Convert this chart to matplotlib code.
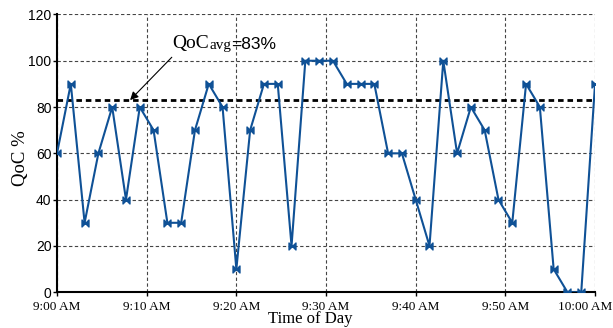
import numpy as np
import pandas as pd
import matplotlib
matplotlib.use("Agg")
import matplotlib.pyplot as plt
from matplotlib.path import Path
from matplotlib.transforms import ScaledTranslation

# QoC samples taken between 9:00 and 10:00
qoc = [60, 90, 30, 60, 80, 40, 80, 70, 30, 30,
       70, 90, 80, 10, 70, 90, 90, 20, 100, 100,
       100, 90, 90, 90, 60, 60, 40, 20, 100, 60,
       80, 70, 40, 30, 90, 80, 10, 0, 0, 90]
qoc_avg = 83
start, end = "2020-01-01 09:00", "2020-01-01 10:00"
tick_labels = ["9:00 AM", "9:10 AM", "9:20 AM", "9:30 AM",
               "9:40 AM", "9:50 AM", "10:00 AM"]

times = pd.date_range(start, end, periods=len(qoc))
ticks = pd.date_range(start, end, freq="10min")

serif = "Liberation Serif"
sans = "Liberation Sans"
blue = "#0f5196"

# bowtie marker
bowtie = Path([(-1, -1), (0, 0), (-1, 1), (-1, -1),
               (1, -1), (0, 0), (1, 1), (1, -1)],
              [Path.MOVETO, Path.LINETO, Path.LINETO, Path.CLOSEPOLY,
               Path.MOVETO, Path.LINETO, Path.LINETO, Path.CLOSEPOLY])

fig = plt.figure(figsize=(6.13, 3.28), dpi=100)
ax = fig.add_axes([0.093, 0.109, 0.8777, 0.847])

ax.plot(times, qoc, color=blue, lw=1.5, marker=bowtie, markersize=5,
        markerfacecolor=blue, markeredgecolor=blue, zorder=3)
ax.axhline(qoc_avg, color="black", lw=2, linestyle=(0, (2, 1.4)), zorder=2)

ax.set_xlim(times[0], times[-1])
ax.set_ylim(0, 120)
ax.set_xticks(ticks)
ax.set_xticklabels(tick_labels, family=serif, fontsize=9.5)
ax.set_yticks(range(0, 121, 20))
ax.set_yticklabels([str(v) for v in range(0, 121, 20)], family=sans, fontsize=10)
ax.tick_params(direction="out", length=3, width=1)
ax.tick_params(axis="y", pad=1)
ax.tick_params(axis="x", pad=3)

# keep the last time label inside the figure
last = ax.get_xticklabels()[-1]
last.set_horizontalalignment("right")
last.set_transform(last.get_transform() + ScaledTranslation(0.175, 0, fig.dpi_scale_trans))

ax.grid(True, color="#444444", lw=0.8, linestyle=(0, (3, 2.2)))
ax.set_axisbelow(True)
for s in ("top", "right"):
    ax.spines[s].set_visible(False)
for s in ("left", "bottom"):
    ax.spines[s].set_linewidth(1.5)

ax.set_xlabel("Time of Day", family=serif, fontsize=12)
ax.xaxis.set_label_coords(0.471, -0.068)
ax.set_ylabel("QoC %", family=serif, fontsize=13.5)
ax.yaxis.set_label_coords(-0.067, 0.483)
ax.yaxis.label.set_va("center")

# average annotation: arrow plus "QoC" + small "avg" + "=83%"
t_tip = times[0] + pd.Timedelta(minutes=8.15)
t_tail = times[0] + pd.Timedelta(minutes=12.8)
t_text = times[0] + pd.Timedelta(minutes=12.9)
ax.annotate("", xy=(t_tip, qoc_avg), xytext=(t_tail, 101.5),
            arrowprops=dict(arrowstyle="-|>", color="black", lw=0.8,
                            mutation_scale=12, shrinkA=0, shrinkB=0))
t1 = ax.text(t_text, 105.5, "QoC", family=serif, fontsize=14, va="baseline")
t2 = ax.annotate("avg", xy=(1, 0), xycoords=t1, family=serif, fontsize=11,
                 va="bottom", ha="left")
ax.annotate("=83%", xy=(1, 0), xycoords=t2, family=sans, fontsize=12.5,
            va="bottom", ha="left")

fig.savefig("out.png", dpi=100)
